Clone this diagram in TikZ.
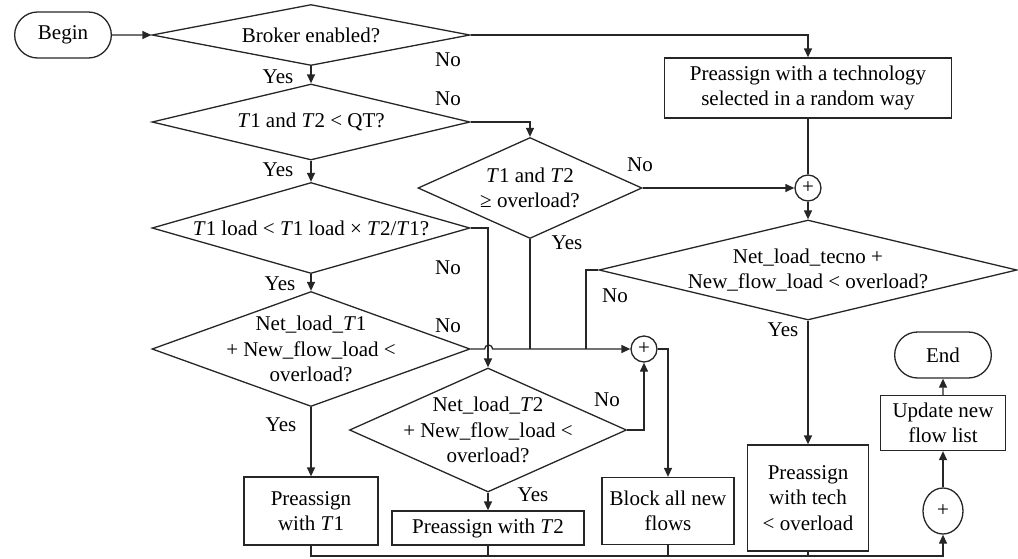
\documentclass[tikz,border=0pt]{standalone}
\usepackage{fontspec}
\setmainfont{Liberation Serif}
\usetikzlibrary{shapes.geometric, shapes.misc, arrows.meta, positioning, calc}

\begin{document}
\begin{tikzpicture}[x=0.5pt, y=-0.5pt, line width=0.65pt,
    font=\fontsize{10.5}{12.8}\selectfont,
    decision/.style={draw=black!85, diamond, align=center, inner xsep=-6pt, inner ysep=-3pt},
    process/.style={draw=black!85, rectangle, align=center, inner sep=2pt},
    term/.style={draw=black!85, rounded rectangle, minimum width=55pt, minimum height=23pt},
    junct/.style={draw=black!85, circle, inner sep=0pt, minimum size=13pt},
    flow/.style={draw=black!85, -{Triangle[length=4.5pt, width=4pt]}},
    link/.style={draw=black!85},
    answer/.style={inner sep=0pt}]
\useasboundingbox (0,0) rectangle (1018,558);

% Start and decisions
\node[term] (begin) at (63,35) {Begin};
\node[decision, aspect=5.2, minimum width=159pt, minimum height=30.5pt] (enabled) at (311,35) {Broker enabled?};
\node[decision, aspect=4.18, minimum width=159pt, minimum height=38pt] (qt) at (311,122) {\textit{T}1 and \textit{T}2 < QT?};
\node[decision, aspect=2.22, minimum width=112pt, minimum height=50.5pt] (over) at (530,188) {\textit{T}1 and \textit{T}2\\≥ overload?};
\node[decision, aspect=3.49, minimum width=159pt, minimum height=45.5pt] (ratio) at (311,228) {\textit{T}1 load < \textit{T}1 load × \textit{T}2/\textit{T}1?};
\node[decision, aspect=2.77, minimum width=159pt, minimum height=57.5pt] (netone) at (311,349) {Net\_load\_\textit{T}1\\+ New\_flow\_load <\\overload?};
\node[decision, aspect=2.23, minimum width=138.5pt, minimum height=62pt] (nettwo) at (488,430) {Net\_load\_\textit{T}2\\+ New\_flow\_load <\\overload?};
\node[decision, aspect=4.18, minimum width=209pt, minimum height=50pt] (nettec) at (808,270) {Net\_load\_tecno +\\New\_flow\_load < overload?};

% Actions
\node[process, minimum width=143.5pt, minimum height=30pt] (random) at (808,88) {Preassign with a technology\\selected in a random way};
\node[process, minimum width=67pt, minimum height=34pt] (withone) at (311,511) {Preassign\\with \textit{T}1};
\node[process, minimum width=96pt, minimum height=17pt] (withtwo) at (488,528) {Preassign with \textit{T}2};
\node[process, minimum width=66pt, minimum height=33.5pt] (block) at (668,511) {Block all new\\flows};
\node[process, minimum width=60.5pt, minimum height=53pt] (withtec) at (808,498) {Preassign\\with tech\\< overload};
\node[process, minimum width=62.5pt, minimum height=27.5pt] (update) at (943,423) {Update new\\flow list};
\node[term] (end) at (943,355) {End};

% Junctions
\node[junct] (sumtop) at (808,188) {+};
\node[junct] (summid) at (644,349) {+};
\node[draw=black!85, ellipse, inner sep=0pt, minimum width=20pt, minimum height=23pt] (sumend) at (943,511) {+};
\coordinate (tecbend) at (586,349);
\coordinate (base) at (311,556);

% Connectors
\draw[flow] (begin) -- (enabled);
\draw[flow] (enabled.east) -| (random.north);
\draw[flow] (enabled) -- (qt);
\draw[flow] (qt.east) -| (over.north);
\draw[flow] (qt) -- (ratio);
\draw[flow] (over) -- (sumtop);
\draw[link] (random) -- (sumtop);
\draw[flow] (sumtop) -- (nettec);
\draw[flow] (ratio) -- (netone);
\draw[flow] (ratio.east) -| (nettwo.north);
\draw[flow] (netone.east) -- ++(14,0) arc (180:360:4) -- (summid.west);
\draw[link] (over.south) -- (over.south |- summid);
\draw[link] (nettec.west) -| (tecbend);
\draw[flow] (nettwo.east) -| (summid.south);
\draw[flow] (summid.east) -| (block.north);
\draw[flow] (netone) -- (withone);
\draw[flow] (nettwo) -- (withtwo);
\draw[flow] (nettec) -- (withtec);
\draw[flow] (sumend) -- (update);
\draw[flow] (update) -- (end);
\draw[flow] (withone.south) -- (base) -| (sumend.south);
\draw[link] (withtwo.south) -- (withtwo.south |- base);
\draw[link] (block.south) -- (block.south |- base);
\draw[link] (withtec.south) -- (withtec.south |- base);

% Answers
\node[answer] (yes-enabled) at (278,77) {Yes};
\node[answer] (no-enabled) at (448,60) {No};
\node[answer] (no-qt) at (448,99) {No};
\node[answer] (yes-qt) at (278,170) {Yes};
\node[answer] (no-over) at (640,165) {No};
\node[answer] (yes-over) at (567,243) {Yes};
\node[answer] (no-ratio) at (448,268) {No};
\node[answer] (yes-ratio) at (280,284) {Yes};
\node[answer] (no-netone) at (448,326) {No};
\node[answer] (yes-netone) at (281,425) {Yes};
\node[answer] (no-nettwo) at (607,400) {No};
\node[answer] (yes-nettwo) at (533,495) {Yes};
\node[answer] (no-nettec) at (615,296) {No};
\node[answer] (yes-nettec) at (783,330) {Yes};
\end{tikzpicture}
\end{document}
